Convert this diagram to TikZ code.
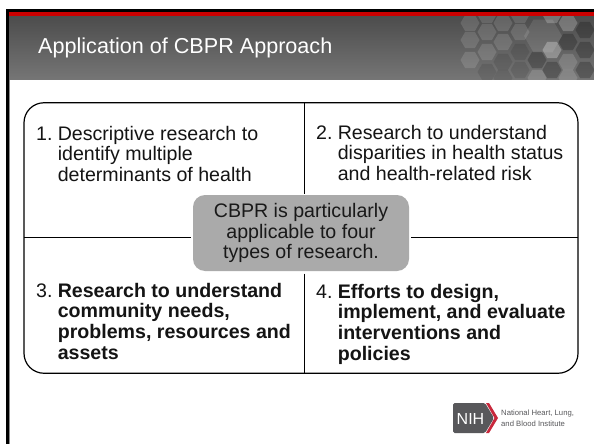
\documentclass[tikz,border=0pt]{standalone}
\usepackage{fontspec}
\setmainfont{Liberation Sans}
\usetikzlibrary{calc}
\definecolor{hbar}{HTML}{CC0000}
\definecolor{capsule}{HTML}{AAAAAA}
\definecolor{nihgray}{HTML}{58585B}
\definecolor{nihred}{HTML}{C8283C}
\newcommand{\hexa}[4]{\fill[#3] ($(#1,#2)+(-#4,0)$) -- ++(#4/2,-#4*0.866) -- ++(#4,0) -- ++(#4/2,#4*0.866) -- ++(-#4/2,#4*0.866) -- ++(-#4,0) -- cycle;}
\tikzset{
  x=1pt,y=-1pt,
  quadtext/.style={anchor=north west,inner sep=0pt,align=left,text=black!92,font=\fontsize{19.6}{20.5}\selectfont},
  boldtext/.style={quadtext,font=\fontsize{19.6}{20.8}\selectfont},
  centertext/.style={rectangle,rounded corners=12pt,fill=capsule,minimum width=216pt,minimum height=76pt,inner sep=0pt,align=center,text=black!90,font=\fontsize{19.6}{20.5}\selectfont},
  grid/.style={line width=1pt,black},
  outerbox/.style={draw=black,line width=1.2pt,rounded corners=20pt,fill=white,minimum width=554pt,minimum height=270.5pt,inner sep=0pt},
  logotext/.style={anchor=base west,inner sep=0pt,text=nihgray,font=\fontsize{7.7}{9}\selectfont}
}
\newcommand{\qitem}[2]{\makebox[21.6pt][l]{#1}#2}
\newcommand{\qind}{\hspace*{21.6pt}}
\begin{document}
\begin{tikzpicture}
\useasboundingbox (0,0) rectangle (594,444);
\fill[white] (0,0) rectangle (594,444);
% slide frame
\fill[black!45] (9,12) rectangle (10,444);
\fill[black] (6,9) rectangle (9,444);
\fill[black] (6,9) rectangle (594,12);
% header
\shade[top color=black!70,bottom color=black!54] (9,16) rectangle (594,79.5);
\begin{scope}
\clip (9,16) rectangle (594,79.5);
\foreach \hx/\hy in {470/23,487/15,503/23,487/32,470/40,503/42,520/32,487/52,470/60,520/15}
  {\hexa{\hx}{\hy}{white,opacity=0.13}{9.5}}
\foreach \hx/\hy in {520/52,503/62,520/70,503/78,487/72}
  {\hexa{\hx}{\hy}{black,opacity=0.10}{9.5}}
\hexa{543}{36}{white,opacity=0.10}{19}
\foreach \hx/\hy in {568/42,585/50,552/70,585/70,585/30,537/60}
  {\hexa{\hx}{\hy}{black,opacity=0.22}{9.5}}
\foreach \hx/\hy in {568/62,537/78,568/78}
  {\hexa{\hx}{\hy}{white,opacity=0.14}{9.5}}
\foreach \hx/\hy in {568/23,552/15}
  {\hexa{\hx}{\hy}{white,opacity=0.22}{9.5}}
\hexa{552}{50}{white,opacity=0.28}{9.5}
\end{scope}
\fill[hbar] (9,12) rectangle (594,16);
\node[anchor=base west,inner sep=0pt,text=white,font=\fontsize{21.6}{26}\selectfont] (title) at (38,54) {Application of CBPR Approach};
% diagram
\node[outerbox] (outer) at (301,238) {};
\node[centertext] (center) at (301,233) {CBPR is particularly\\applicable to four\\types of research.};
\coordinate (vtop) at (304,103);
\coordinate (vbot) at (304,373);
\coordinate (vup) at (304,193.5);
\coordinate (vdown) at (304,273.5);
\coordinate (hleft) at (24,237.5);
\coordinate (hright) at (578,237.5);
\coordinate (hcl) at (190.5,237.5);
\coordinate (hcr) at (411,237.5);
\draw[grid] (vtop) -- (vup);
\draw[grid] (vdown) -- (vbot);
\draw[grid] (hleft) -- (hcl);
\draw[grid] (hcr) -- (hright);
\node[quadtext] (q1) at (36,125.7) {\qitem{1.}{Descriptive research to}\\\qind identify multiple\\\qind determinants of health};
\node[quadtext] (q2) at (316,125) {\qitem{2.}{Research to understand}\\\qind disparities in health status\\\qind and health-related risk};
\node[boldtext] (q3) at (36,282.7) {\qitem{3.}{\textbf{Research to understand}}\\\qind\textbf{community needs,}\\\qind\textbf{problems, resources and}\\\qind\textbf{assets}};
\node[boldtext] (q4) at (316,283.7) {\qitem{4.}{\textbf{Efforts to design,}}\\\qind\textbf{implement, and evaluate}\\\qind\textbf{interventions and}\\\qind\textbf{policies}};
% logo
\fill[nihgray,rounded corners=1.5pt] (453,403) -- (485,403) -- (494,418) -- (485,433) -- (453,433) -- cycle;
\fill[nihred] (486,403) -- (489,403) -- (498,418) -- (489,433) -- (486,433) -- (494.5,418) -- cycle;
\node[anchor=base west,inner sep=0pt,text=white,font=\fontsize{16}{20}\selectfont] (nih) at (456.5,424) {NIH};
\node[logotext] (l1) at (501,415.5) {National Heart, Lung,};
\node[logotext] (l2) at (501,426.5) {and Blood Institute};
\end{tikzpicture}
\end{document}
